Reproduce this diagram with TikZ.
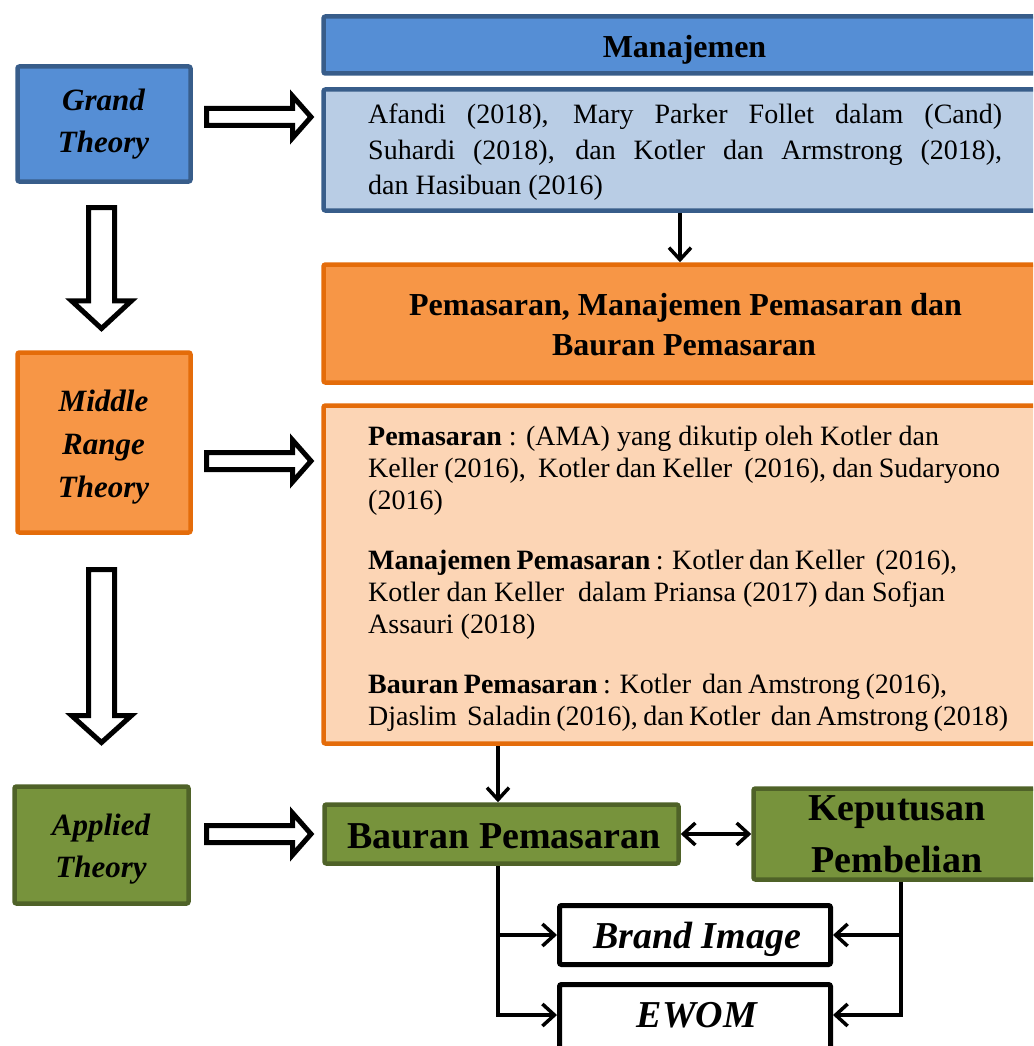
\documentclass[tikz,border=0pt]{standalone}
\usepackage{fontspec}
\setmainfont{Liberation Serif}
\usetikzlibrary{arrows.meta}
\definecolor{bluefill}{HTML}{558ED5}
\definecolor{blueline}{HTML}{385D8A}
\definecolor{lightblue}{HTML}{B9CDE5}
\definecolor{orangefill}{HTML}{F79646}
\definecolor{orangeline}{HTML}{E46C0A}
\definecolor{peach}{HTML}{FCD5B5}
\definecolor{greenfill}{HTML}{77933C}
\definecolor{greenline}{HTML}{4F6228}
\begin{document}
\begin{tikzpicture}[x=1pt,y=-1pt,
  box/.style={draw, line width=4.5pt, rounded corners=2pt, inner sep=0pt},
  bluebox/.style={box, draw=blueline, fill=bluefill},
  lbluebox/.style={box, draw=blueline, fill=lightblue},
  orbox/.style={box, draw=orangeline, fill=orangefill},
  peachbox/.style={box, draw=orangeline, fill=peach},
  grbox/.style={box, draw=greenline, fill=greenfill},
  whbox/.style={box, draw=black, fill=white, line width=5pt},
  conn/.style={line width=3.5pt, -{Straight Barb[length=12pt 0,width=22pt 0]}},
  bconn/.style={line width=3.5pt, {Straight Barb[length=12pt 0,width=22pt 0]}-{Straight Barb[length=12pt 0,width=22pt 0]}},
  hollow/.style={line width=5pt, fill=white, draw=black, line join=miter},
  lbl/.style={inner sep=0pt, anchor=base},
  lblw/.style={inner sep=0pt, anchor=base west},
  theo/.style={lbl, font=\fontsize{31}{37}\selectfont\bfseries\itshape},
  body/.style={lblw, font=\fontsize{28}{34}\selectfont},
  head/.style={lbl, font=\fontsize{32}{38}\selectfont\bfseries},
  big/.style={lbl, font=\fontsize{38}{44}\selectfont\bfseries},
  bigit/.style={lbl, font=\fontsize{38}{44}\selectfont\bfseries\itshape}]
\useasboundingbox (0,0) rectangle (1033,1046);
\clip (0,0) rectangle (1033,1046);

% left theory boxes
\node[bluebox, minimum width=173pt, minimum height=115pt] (gt) at (104,124) {};
\node[theo] (gt1) at (103.5,111) {Grand};
\node[theo] (gt2) at (103.5,152) {Theory};
\node[orbox, minimum width=173pt, minimum height=180pt] (mt) at (104,442.5) {};
\node[theo] (mt1) at (103.5,411) {Middle};
\node[theo] (mt2) at (103.5,454) {Range};
\node[theo] (mt3) at (103.5,497) {Theory};
\node[grbox, minimum width=174pt, minimum height=117pt] (at) at (101.5,845) {};
\node[theo] (at1) at (101,835) {Applied};
\node[theo] (at2) at (101,877) {Theory};

% right column
\node[bluebox, minimum width=776.5pt, minimum height=57pt] (mj) at (711.75,45) {};
\node[head] (mjt) at (684.5,58) {Manajemen};
\node[lbluebox, minimum width=776.5pt, minimum height=121pt] (lb) at (711.75,150) {};
\node[body] (lb1) at (368,124) {\makebox[634pt][s]{Afandi (2018), Mary Parker Follet dalam (Cand)}};
\node[body] (lb2) at (368,159.5) {\makebox[634pt][s]{Suhardi (2018), dan Kotler dan Armstrong (2018),}};
\node[body] (lb3) at (368,194) {dan Hasibuan (2016)};

\node[orbox, minimum width=776.5pt, minimum height=118pt] (or) at (711.75,323.5) {};
\node[head] (or1) at (685.5,315) {Pemasaran, Manajemen Pemasaran dan};
\node[head] (or2) at (684,355) {Bauran Pemasaran};

\node[peachbox, minimum width=776.5pt, minimum height=338pt] (pe) at (711.75,574.5) {};
\node[body] (p1) at (368,445) {\textbf{Pemasaran} : (AMA) yang dikutip oleh Kotler dan};
\node[body] (p2) at (368,477) {\makebox[632pt][s]{Keller (2016),\ \ Kotler dan Keller\ \ (2016), dan Sudaryono}};
\node[body] (p3) at (368,509) {(2016)};
\node[body] (p4) at (368,569) {\makebox[589pt][s]{\textbf{Manajemen Pemasaran} : Kotler dan Keller\ \ (2016),}};
\node[body] (p5) at (368,601) {Kotler dan Keller\ \ dalam Priansa (2017) dan Sofjan};
\node[body] (p6) at (368,633) {Assauri (2018)};
\node[body] (p7) at (368,693) {\makebox[579pt][s]{\textbf{Bauran Pemasaran} : Kotler\ \ dan Amstrong (2016),}};
\node[body] (p8) at (368,725) {\makebox[640pt][s]{Djaslim\ \ Saladin (2016), dan Kotler\ \ dan Amstrong (2018)}};

\node[grbox, minimum width=354pt, minimum height=59pt] (bp) at (501.5,834) {};
\node[big] (bpt) at (504,848) {Bauran Pemasaran};
\node[grbox, minimum width=346.5pt, minimum height=91pt] (kp) at (926.75,834) {};
\node[big] (kp1) at (897,820) {Keputusan};
\node[big] (kp2) at (897,872) {Pembelian};
\node[whbox, minimum width=271pt, minimum height=59pt] (bi) at (695,935) {};
\node[bigit] (bit) at (697,948) {Brand Image};
\node[whbox, minimum width=271pt, minimum height=75.5pt] (ew) at (695,1022.25) {};
\node[bigit] (ewt) at (697,1027) {EWOM};

% hollow block arrows
\draw[hollow] (206.5,108.5) -- (292.5,108.5) -- (292.5,96) -- (311,117) -- (292.5,138) -- (292.5,125.5) -- (206.5,125.5) -- cycle;
\draw[hollow] (206.5,452.5) -- (292.5,452.5) -- (292.5,440) -- (311,461) -- (292.5,482) -- (292.5,469.5) -- (206.5,469.5) -- cycle;
\draw[hollow] (206.5,825.5) -- (292.5,825.5) -- (292.5,813) -- (311,834) -- (292.5,855) -- (292.5,842.5) -- (206.5,842.5) -- cycle;
\draw[hollow] (88.5,207.5) -- (114.5,207.5) -- (114.5,300.8) -- (131.5,300.8) -- (101.5,328.5) -- (71.5,300.8) -- (88.5,300.8) -- cycle;
\draw[hollow] (88.5,569.5) -- (114.5,569.5) -- (114.5,715.5) -- (131.5,715.5) -- (101.5,742.5) -- (71.5,715.5) -- (88.5,715.5) -- cycle;

% connectors
\coordinate (c1) at (680,0);
\coordinate (c2) at (498,0);
\coordinate (c3) at (0,1015);
\coordinate (c4) at (901,0);
\draw[conn] (c1 |- lb.south) -- (c1 |- or.north);
\draw[conn] (c2 |- pe.south) -- (c2 |- bp.north);
\draw[bconn] (bp.east) -- (bp.east -| kp.west);
\draw[conn] (c2 |- bp.south) |- (ew.west |- c3);
\draw[conn] (c2 |- bi.west) -- (bi.west);
\draw[conn] (c4 |- kp.south) |- (ew.east |- c3);
\draw[conn] (c4 |- bi.east) -- (bi.east);
\end{tikzpicture}
\end{document}
